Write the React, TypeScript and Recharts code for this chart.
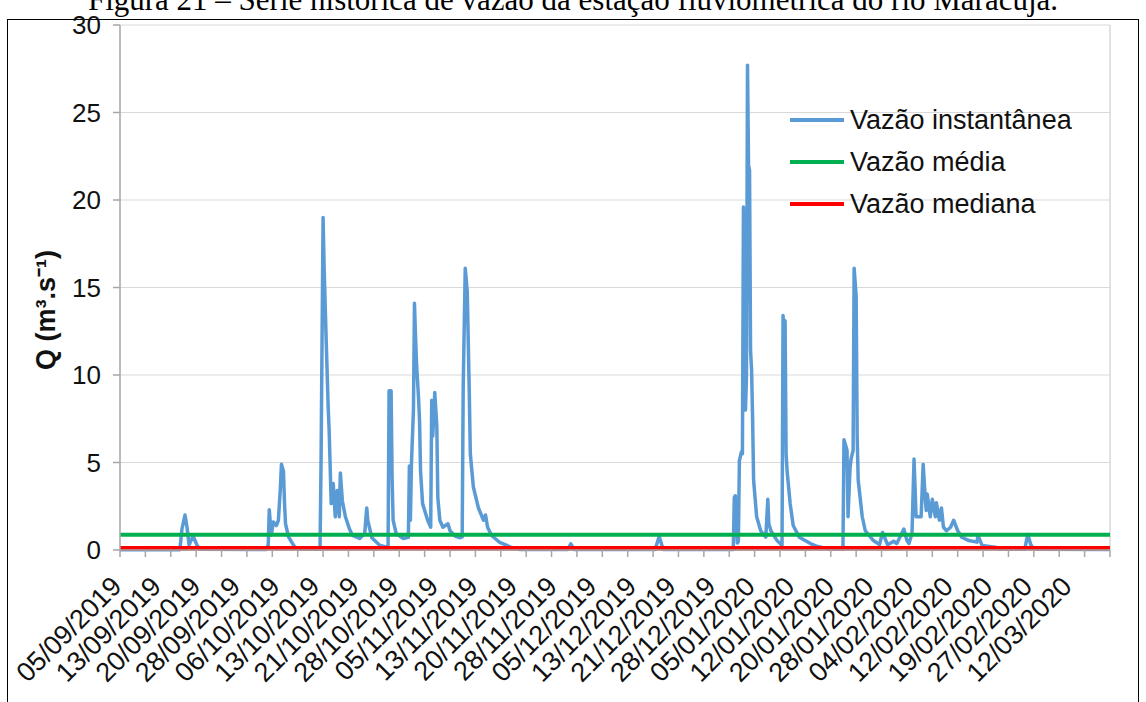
import { LineChart, Line, XAxis, YAxis, CartesianGrid, Legend, ReferenceLine } from "recharts";

// sample position along the category axis (975 readings) and measured flow Q (m³/s)
const sampleIndex = [
  0, 59, 61, 64, 66, 68, 72, 76, 79, 144, 146, 147, 149, 151, 154, 156, 158, 159, 161, 162, 163, 166, 171, 174,
  197, 198, 200, 201, 203, 205, 206, 208, 210, 212, 214, 216, 217, 219, 222, 226, 229, 236, 241, 243, 244, 248,
  256, 264, 265, 267, 268, 269, 272, 279, 284, 285, 286, 287, 289, 290, 291, 292, 294, 295, 296, 298, 303, 306,
  307, 308, 310, 312, 313, 315, 318, 323, 325, 330, 335, 337, 338, 340, 342, 344, 345, 348, 353, 358, 360, 362,
  366, 374, 381, 387, 394, 441, 444, 447, 527, 531, 535, 604, 605, 606, 608, 609, 610, 612, 613, 614, 616, 617,
  618, 619, 620, 621, 622, 623, 624, 627, 631, 636, 638, 639, 641, 647, 652, 653, 654, 655, 656, 657, 660, 663,
  669, 680, 687, 698, 712, 713, 716, 717, 719, 720, 722, 723, 725, 726, 727, 731, 734, 742, 748, 751, 756, 762,
  765, 772, 775, 777, 780, 782, 784, 789, 791, 793, 794, 795, 798, 800, 803, 804, 807, 809, 811, 814, 818, 821,
  825, 829, 836, 844, 845, 849, 862, 867, 891, 894, 897, 900, 975,
];
const flow = [
  0.02, 0.02, 1.2, 2.0, 1.3, 0.3, 0.8, 0.25, 0.05, 0.03, 0.3, 2.3, 0.85, 1.6, 1.4, 1.7, 3.6, 4.9, 4.5, 2.7, 1.5, 0.75, 0.26, 0.06,
  0.05, 5.0, 19.0, 16.2, 12.1, 8.2, 6.8, 2.65, 3.8, 1.9, 3.4, 1.9, 4.4, 2.8, 1.9, 1.2, 0.83, 0.66, 0.94, 2.4, 1.7, 0.7,
  0.26, 0.15, 9.1, 9.1, 4.0, 1.7, 0.94, 0.66, 0.72, 4.8, 1.7, 4.9, 8.0, 14.1, 12.3, 10.7, 8.7, 7.4, 4.5, 2.65, 1.7, 1.3,
  8.55, 6.5, 9.0, 7.1, 3.0, 1.7, 1.3, 1.5, 1.1, 0.8, 0.7, 0.75, 9.3, 16.1, 14.75, 8.95, 5.5, 3.6, 2.4, 1.7, 2.0, 1.3,
  0.83, 0.43, 0.26, 0.1, 0.03, 0.03, 0.35, 0.03, 0.03, 0.77, 0.03, 0.03, 3.0, 3.1, 0.4, 0.5, 5.1, 5.6, 5.5, 19.6, 8.0, 10.0,
  27.7, 22.0, 21.7, 11.4, 10.3, 7.6, 4.0, 1.9, 1.1, 0.73, 2.9, 1.5, 1.1, 0.55, 0.26, 13.4, 12.5, 13.1, 5.5, 4.5, 2.65, 1.4,
  0.73, 0.37, 0.2, 0.06, 0.05, 6.3, 5.7, 1.9, 4.7, 5.2, 5.7, 16.1, 14.5, 6.5, 4.0, 1.9, 1.1, 0.54, 0.31, 1.0, 0.3, 0.5,
  0.37, 1.2, 0.54, 0.37, 0.94, 5.2, 1.9, 1.9, 4.9, 3.0, 2.26, 3.2, 1.9, 2.9, 1.9, 2.7, 1.7, 2.4, 1.3, 1.1, 1.3, 1.7,
  1.1, 0.73, 0.54, 0.45, 0.83, 0.26, 0.16, 0.04, 0.04, 0.89, 0.3, 0.04, 0.03,
];
const MEAN_Q = 0.87;
const MEDIAN_Q = 0.1;

const dateLabels = [
  "05/09/2019", "13/09/2019", "20/09/2019", "28/09/2019", "06/10/2019", "13/10/2019", "21/10/2019",
  "28/10/2019", "05/11/2019", "13/11/2019", "20/11/2019", "28/11/2019", "05/12/2019", "13/12/2019",
  "21/12/2019", "28/12/2019", "05/01/2020", "12/01/2020", "20/01/2020", "28/01/2020", "04/02/2020",
  "12/02/2020", "19/02/2020", "27/02/2020", "12/03/2020",
];
const yTicks = [0, 5, 10, 15, 20, 25, 30];
const seriesOrder = ["flow", "mean", "median"];

const LAST_SAMPLE = 975;
const TICK_EVERY = 25;
const LABEL_EVERY = 39;

const FONT = '"Liberation Sans", Arial, sans-serif';
const BLUE = "#5b9bd5";
const GREEN = "#00b050";
const RED = "#ff0000";
const AXIS_GREY = "#a6a6a6";

const data = sampleIndex.map((idx, i) => ({
  idx,
  flow: flow[i],
  mean: MEAN_Q,
  median: MEDIAN_Q,
}));

const xTicks: number[] = [];
for (let v = 0; v <= LAST_SAMPLE; v++) {
  if (v % TICK_EVERY === 0 || (v % LABEL_EVERY === 0 && v / LABEL_EVERY < dateLabels.length)) xTicks.push(v);
}

function DateTick(props: any) {
  const { x, y, payload } = props;
  const v = payload.value as number;
  const label = v % LABEL_EVERY === 0 ? dateLabels[v / LABEL_EVERY] : undefined;
  const ax = x + 3;
  const ay = y + 38;
  return (
    <g>
      {v % TICK_EVERY === 0 && <line x1={x} x2={x} y1={y} y2={y + 7} stroke={AXIS_GREY} strokeWidth={1.5} />}
      {label && (
        <text
          x={ax}
          y={ay}
          textAnchor="end"
          transform={`rotate(-45 ${ax} ${ay})`}
          fontSize={27}
          fill="#111"
          fontFamily={FONT}
        >
          {label}
        </text>
      )}
    </g>
  );
}

function SeriesLegend({ payload }: any) {
  const items = [...(payload || [])].sort(
    (a: any, b: any) => seriesOrder.indexOf(a.dataKey) - seriesOrder.indexOf(b.dataKey)
  );
  return (
    <div style={{ fontFamily: FONT, fontSize: 27, color: "#111" }}>
      {items.map((item: any) => (
        <div key={item.value} style={{ display: "flex", alignItems: "center", height: 42 }}>
          <span style={{ display: "inline-block", width: 54, height: 4, background: item.color, marginRight: 6 }} />
          <span>{item.value}</span>
        </div>
      ))}
    </div>
  );
}

export default function App() {
  return (
    <div
      style={{
        position: "absolute",
        left: 0,
        top: 0,
        width: 1146,
        height: 702,
        overflow: "hidden",
        background: "#fff",
      }}
    >
      <div
        style={{
          position: "absolute",
          left: 0,
          top: -16,
          width: 1146,
          textAlign: "center",
          fontFamily: '"Liberation Serif", "Times New Roman", serif',
          fontSize: 31,
          lineHeight: "32px",
          whiteSpace: "nowrap",
        }}
      >
        Figura 21 – Série histórica de vazão da estação fluviométrica do rio Maracujá.
      </div>
      <div
        style={{
          position: "absolute",
          left: 7,
          top: 19,
          width: 1130,
          height: 720,
          border: "1.5px solid #000",
        }}
      />
      <div
        style={{
          position: "absolute",
          left: 44,
          top: 310,
          transform: "translate(-50%, -50%) rotate(-90deg)",
          fontFamily: FONT,
          fontWeight: "bold",
          fontSize: 27,
          whiteSpace: "nowrap",
          color: "#111",
        }}
      >
        Q (m³.s⁻¹)
      </div>
      <div style={{ position: "absolute", left: 0, top: 0 }}>
        <LineChart
          width={1146}
          height={702}
          data={data}
          margin={{ top: 25, right: 36, left: 0, bottom: 0 }}
          style={{ fontFamily: FONT }}
        >
          <CartesianGrid vertical={false} stroke="#d9d9d9" strokeWidth={1.2} />
          <XAxis
            dataKey="idx"
            type="number"
            domain={[0, LAST_SAMPLE]}
            ticks={xTicks}
            interval={0}
            tick={<DateTick />}
            tickLine={false}
            tickSize={0}
            tickMargin={0}
            height={152}
            axisLine={{ stroke: AXIS_GREY, strokeWidth: 1.5 }}
          />
          <YAxis
            type="number"
            domain={[0, 30]}
            ticks={yTicks}
            width={120}
            tickSize={7}
            tickMargin={12}
            tick={{ fontSize: 26, fill: "#111", fontFamily: FONT }}
            tickLine={{ stroke: AXIS_GREY, strokeWidth: 1.5 }}
            axisLine={{ stroke: AXIS_GREY, strokeWidth: 1.5 }}
          />
          <ReferenceLine x={LAST_SAMPLE} stroke="#d9d9d9" strokeWidth={1.5} />
          <Legend
            layout="vertical"
            align="center"
            verticalAlign="middle"
            content={<SeriesLegend />}
            wrapperStyle={{ top: 99, left: 790, width: 340 }}
          />
          <Line
            name="Vazão instantânea"
            dataKey="flow"
            type="linear"
            stroke={BLUE}
            strokeWidth={3.5}
            strokeLinejoin="round"
            dot={false}
            activeDot={false}
            isAnimationActive={false}
          />
          <Line
            name="Vazão média"
            dataKey="mean"
            type="linear"
            stroke={GREEN}
            strokeWidth={4}
            dot={false}
            activeDot={false}
            isAnimationActive={false}
          />
          <Line
            name="Vazão mediana"
            dataKey="median"
            type="linear"
            stroke={RED}
            strokeWidth={4.5}
            dot={false}
            activeDot={false}
            isAnimationActive={false}
          />
        </LineChart>
      </div>
    </div>
  );
}
